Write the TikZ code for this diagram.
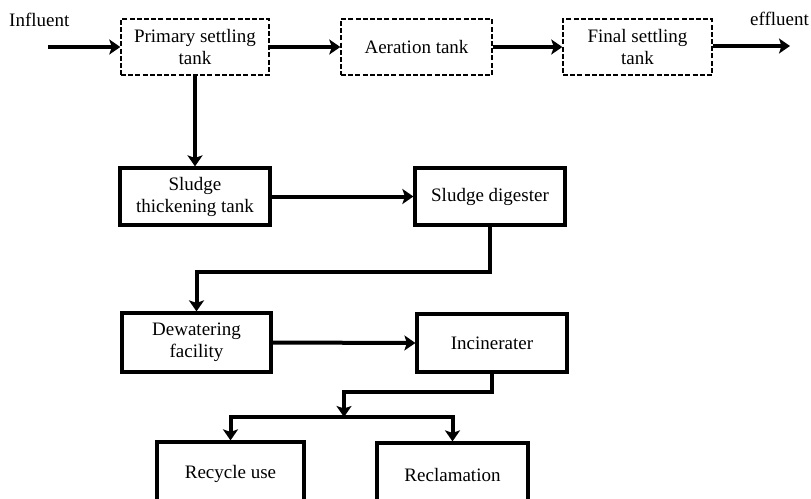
\documentclass[tikz,border=0pt]{standalone}
\usepackage{fontspec}
\setmainfont{Liberation Serif}
\usetikzlibrary{arrows.meta}
\begin{document}
\begin{tikzpicture}[x=1pt,y=-1pt,
  every node/.style={font=\fontsize{19}{22}\selectfont, inner sep=0pt, align=center},
  topbox/.style={draw, line width=1.4pt, dash pattern=on 5pt off 2.2pt, minimum height=56pt},
  lowbox/.style={draw, line width=3.2pt, minimum height=57pt},
  flow/.style={line width=4pt, -{Stealth[length=11pt,width=15pt,inset=2.5pt]}}]
\clip (0,0) rectangle (811,498);
\fill[white] (0,0) rectangle (811,498);
% top row
\node[topbox, minimum width=148pt] (prim) at (195,47) {Primary settling\\tank};
\node[topbox, minimum width=151pt] (aer) at (416.5,47) {Aeration tank};
\node[topbox, minimum width=149pt] (fin) at (637.5,47) {Final settling\\tank};
\node[anchor=base west] (inl) at (9,26) {Influent};
\node[anchor=base west] (efl) at (750,25) {effluent};
\coordinate (in) at (48,47);
\coordinate (out) at (790,46);
% lower boxes
\node[lowbox, minimum width=150pt] (thick) at (195,196.5) {Sludge\\thickening tank};
\node[lowbox, minimum width=150pt] (dig) at (490,196.5) {Sludge digester};
\node[lowbox, minimum width=149pt, minimum height=59pt] (dew) at (196.5,342.5) {Dewatering\\facility};
\node[lowbox, minimum width=150pt, minimum height=58pt] (inc) at (492,343) {Incinerater};
\node[lowbox, minimum width=147pt, minimum height=64pt] (rec) at (230.5,474) {Recycle use};
\node[lowbox, minimum width=151pt, minimum height=64pt] (recl) at (452.5,475) {Reclamation};
\coordinate (split) at (344,417);
% connectors
\draw[flow] (in) -- (prim.west);
\draw[flow] (prim.east) -- (aer.west);
\draw[flow] (aer.east) -- (fin.west);
\draw[flow] (fin.east |- out) -- (out);
\draw[flow] (prim.south) -- (thick.north);
\draw[flow] (thick.east) -- (dig.west);
\draw[flow] (dig.south) -- ++(0,45) -| (dew.north);
\draw[flow] (dew.east) -- (inc.west);
\draw[flow] (inc.south) -- ++(0,18) -| (split);
\draw[flow] (split) -| (rec.north);
\draw[flow] (split) -| (recl.north);
\end{tikzpicture}
\end{document}
